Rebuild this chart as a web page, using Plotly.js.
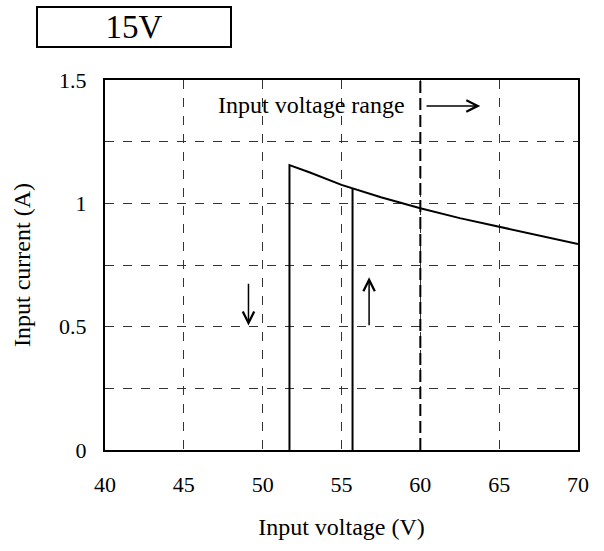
<!DOCTYPE html>
<html>
<head>
<meta charset="utf-8">
<script src="https://cdn.plot.ly/plotly-3.0.1.min.js"></script>
<style>html,body{margin:0;padding:0;background:#fff}#chart{width:604px;height:551px}</style>
</head>
<body>
<div id="chart"></div>
<script>
// Main current curve (turn-on at ~51.7 V)
var curveV = [51.7, 51.7, 53, 55, 57.5, 60, 62.5, 65, 67.5, 70];
var curveI = [0, 1.155, 1.125, 1.075, 1.025, 0.98, 0.94, 0.905, 0.87, 0.835];
// Second vertical (turn-on at ~55.7 V on rising voltage)
var riseV = [55.7, 55.7];
var riseI = [0, 1.06];
// Input voltage range boundary
var rangeV = [60, 60];
var rangeI = [0, 1.5];
// Arrows
var downArrow = {v: 49.1, from: 0.68, to: 0.505};
var upArrow = {v: 56.75, from: 0.50, to: 0.70};
var rightArrow = {i: 1.395, from: 60.3, to: 63.8};
var xTicks = [40, 45, 50, 55, 60, 65, 70];
var yTicks = [0, 0.25, 0.5, 0.75, 1, 1.25, 1.5];
var yTickText = ['0', '', '0.5', '', '1', '', '1.5'];
var titleText = '15V';
var rangeLabel = 'Input voltage range';

var font = 'Liberation Serif, Times New Roman, serif';

var traces = [
  {x: curveV, y: curveI, mode: 'lines', line: {color: '#000', width: 2}, hoverinfo: 'skip'},
  {x: riseV, y: riseI, mode: 'lines', line: {color: '#000', width: 2}, hoverinfo: 'skip'},
  {x: rangeV, y: rangeI, mode: 'lines', line: {color: '#000', width: 2, dash: '12px,5px'}, hoverinfo: 'skip'}
];

var layout = {
  width: 604, height: 551,
  margin: {l: 105, r: 26, t: 80, b: 101},
  paper_bgcolor: '#fff', plot_bgcolor: '#fff',
  showlegend: false,
  font: {family: font, color: '#000', size: 22},
  xaxis: {
    range: [40, 70], tickvals: xTicks, ticktext: xTicks.map(String),
    showgrid: true, gridcolor: '#333', gridwidth: 1, griddash: 'dash',
    zeroline: false, showline: true, linecolor: '#000', linewidth: 2, mirror: true,
    ticks: '', ticklen: 0, ticklabelstandoff: 14, tickfont: {family: font, size: 22},
    title: {text: 'Input voltage (V)', font: {family: font, size: 24}, standoff: 22}
  },
  yaxis: {
    range: [0, 1.5], tickvals: yTicks, ticktext: yTickText,
    showgrid: true, gridcolor: '#333', gridwidth: 1, griddash: 'dash',
    zeroline: false, showline: true, linecolor: '#000', linewidth: 2, mirror: true,
    ticks: '', ticklen: 0, ticklabelstandoff: 12, tickfont: {family: font, size: 22},
    title: {text: 'Input current (A)', font: {family: font, size: 24}, standoff: 22}
  },
  annotations: [
    {xref: 'paper', yref: 'paper', x: 0.0613, y: 1.143, xanchor: 'center', yanchor: 'middle',
     text: titleText, showarrow: false,
     font: {family: font, size: 33, color: '#000'}, bordercolor: '#000', borderwidth: 2,
     borderpad: 0, width: 192, height: 38, bgcolor: '#fff'},
    {xref: 'x', yref: 'y', x: 53.1, y: 1.4, text: rangeLabel, showarrow: false,
     font: {family: font, size: 24, color: '#000'}, bgcolor: 'rgba(0,0,0,0)'},
    {xref: 'x', yref: 'y', axref: 'x', ayref: 'y', x: rightArrow.to, y: rightArrow.i,
     ax: rightArrow.from, ay: rightArrow.i, text: '', showarrow: true, arrowhead: 5,
     arrowsize: 1.5, arrowwidth: 1.5, arrowcolor: '#000'},
    {xref: 'x', yref: 'y', axref: 'x', ayref: 'y', x: downArrow.v, y: downArrow.to,
     ax: downArrow.v, ay: downArrow.from, text: '', showarrow: true, arrowhead: 5,
     arrowsize: 1.5, arrowwidth: 1.5, arrowcolor: '#000'},
    {xref: 'x', yref: 'y', axref: 'x', ayref: 'y', x: upArrow.v, y: upArrow.to,
     ax: upArrow.v, ay: upArrow.from, text: '', showarrow: true, arrowhead: 5,
     arrowsize: 1.5, arrowwidth: 1.5, arrowcolor: '#000'}
  ]
};

Plotly.newPlot('chart', traces, layout, {displayModeBar: false, staticPlot: true});
</script>
</body>
</html>
